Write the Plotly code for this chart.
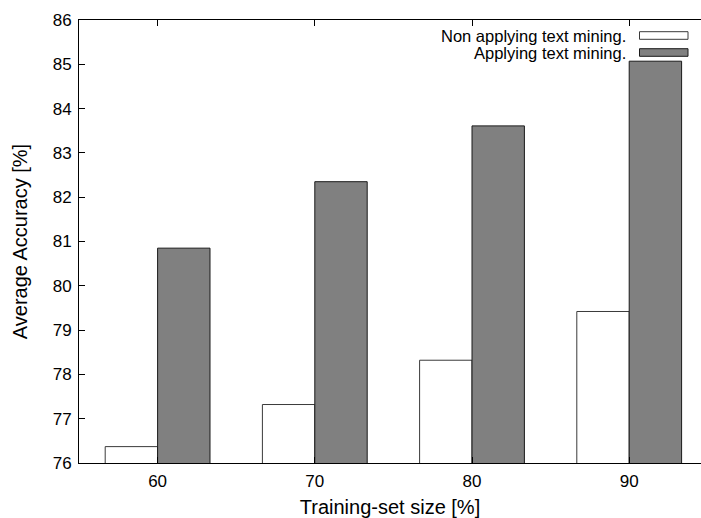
import plotly.graph_objects as go

categories = ["60", "70", "80", "90"]
non_applying = [76.37, 77.32, 78.32, 79.42]
applying = [80.85, 82.35, 83.61, 85.07]
series_names = ["Non applying text mining.", "Applying text mining."]
y_ticks = [76, 77, 78, 79, 80, 81, 82, 83, 84, 85, 86]

FONT = "Liberation Sans, Arial, Helvetica, sans-serif"
FIG_W, FIG_H = 701, 518
fig = go.Figure()
fig.add_trace(go.Bar(x=categories, y=non_applying, name=series_names[0],
                     marker=dict(color="white", line=dict(color="#3a3a3a", width=1)),
                     showlegend=False))
fig.add_trace(go.Bar(x=categories, y=applying, name=series_names[1],
                     marker=dict(color="#808080", line=dict(color="#1a1a1a", width=1)),
                     showlegend=False))

# plot area in screen pixels
L, T, H = 79, 20, 443
W = FIG_W - L
def px(x):
    return (x - L) / W
def py(y):
    return (T + H - y) / H

legend_rows = [(35.5, "white", "#3a3a3a"), (52.5, "#808080", "#1a1a1a")]
for (yc, fill, line), name in zip(legend_rows, series_names):
    fig.add_shape(type="rect", xref="paper", yref="paper",
                  x0=px(639.5), x1=px(688), y0=py(yc + 3.8), y1=py(yc - 3.8),
                  fillcolor=fill, line=dict(color=line, width=1))
    fig.add_annotation(xref="paper", yref="paper", x=px(627), y=py(yc),
                       text=name, showarrow=False, xanchor="right", yanchor="middle",
                       borderpad=0,
                       font=dict(family=FONT, size=16.5, color="black"))

fig.update_layout(
    width=FIG_W, height=FIG_H,
    margin=dict(l=L, r=0, t=T, b=FIG_H - (T + H)),
    plot_bgcolor="white", paper_bgcolor="white",
    barmode="group", bargap=1/3, bargroupgap=0,
    font=dict(family=FONT, size=17, color="black"),
    xaxis=dict(range=[-0.5, -0.5 + W / 157.2], showline=True, linecolor="black",
               linewidth=1, mirror="allticks", ticks="inside", ticklen=6,
               tickcolor="black", showgrid=False, zeroline=False, automargin=False,
               ticklabelstandoff=3,
               title=dict(text="Training-set size [%]", standoff=11),
               tickfont=dict(size=17)),
    yaxis=dict(range=[76, 86], tickvals=y_ticks, showline=True, linecolor="black",
               linewidth=1, mirror=False, ticks="inside", ticklen=6, tickcolor="black",
               showgrid=False, zeroline=False, automargin=False,
               ticklabelstandoff=3,
               title=dict(text="Average Accuracy [%]", standoff=19),
               tickfont=dict(size=17)),
)
fig.write_html("out.html",
               config={"displayModeBar": False},
               post_script="document.body.style.margin='0';"
                           "document.body.style.overflow='hidden';"
                           "document.documentElement.style.overflow='hidden';")
